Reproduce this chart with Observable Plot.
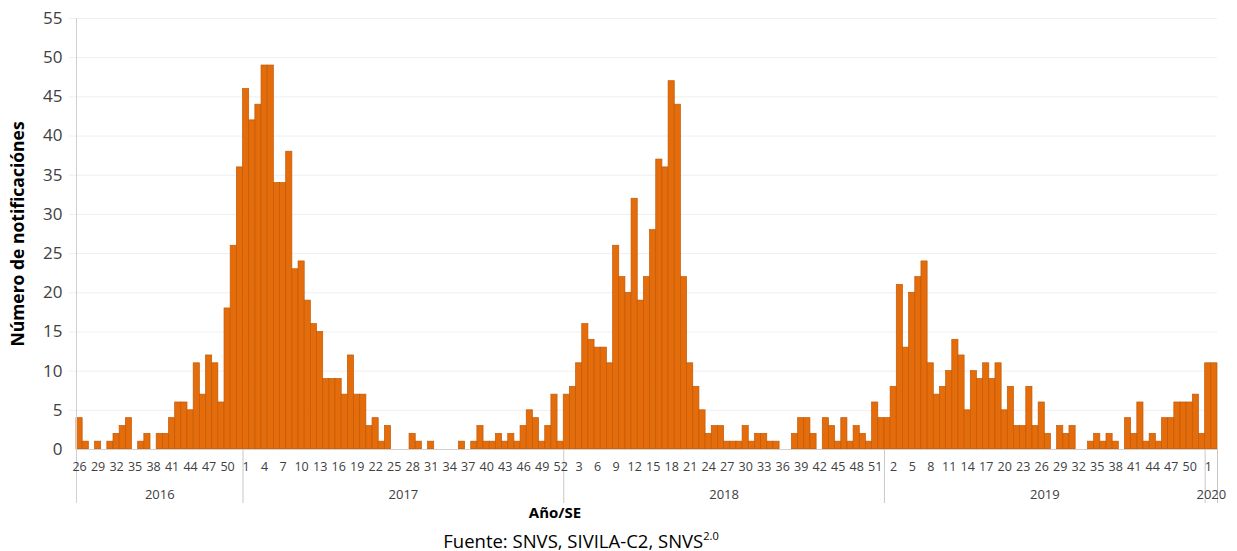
<!DOCTYPE html>
<html><head><meta charset="utf-8">
<script src="https://cdn.jsdelivr.net/npm/d3@7"></script>
<script src="https://cdn.jsdelivr.net/npm/@observablehq/plot@0.6"></script>
<style>
html,body{margin:0;background:#fff;font-family:"Open Sans",sans-serif;}
body{position:relative;width:1237px;height:551px;overflow:hidden;}
#caption{position:absolute;left:0;top:527px;width:1162px;height:28px;text-align:center;font-size:18.5px;color:#000;line-height:28px;font-family:"Open Sans",sans-serif;}
#caption sup{font-size:11px;vertical-align:top;position:relative;top:-5px;}
</style></head><body>
<div id="chart"></div>
<div id="caption">Fuente: SNVS, SIVILA-C2, SNVS<sup>2.0</sup></div>
<script>
// Epidemiological weeks (SE) per year and notification counts
const years = [2016, 2017, 2018, 2019, 2020];
const firstWeek = [26, 1, 1, 1, 1];
const cases2016 = [4,1,0,1,0,1,2,3,4,0,1,2,0,2,2,4,6,6,5,11,7,12,11,6,18,26,36];
const cases2017 = [46,42,44,49,49,34,34,38,23,24,19,16,15,9,9,9,7,12,7,7,3,4,1,3,0,0,0,2,1,0,1,0,0,0,0,1,0,1,3,1,1,2,1,2,1,3,5,4,1,3,7,1];
const cases2018 = [7,8,11,16,14,13,13,11,26,22,20,32,19,22,28,37,36,47,44,22,11,8,5,2,3,3,1,1,1,3,1,2,2,1,1,0,0,2,4,4,2,0,4,3,1,4,1,3,2,1,6,4];
const cases2019 = [4,8,21,13,20,22,24,11,7,8,10,14,12,5,10,9,11,9,11,5,8,3,3,8,3,6,2,0,3,2,3,0,0,1,2,1,2,1,0,4,2,6,1,2,1,4,4,6,6,6,7,2];
const cases2020 = [11,11];
const caseSeries = [cases2016, cases2017, cases2018, cases2019, cases2020];
const yTicks = [0,5,10,15,20,25,30,35,40,45,50,55];

const rows = [];
const yearSpans = [];
let idx = 0;
years.forEach((yr, k) => {
  const start = idx;
  caseSeries[k].forEach((v, j) => {
    rows.push({i: idx, year: yr, week: firstWeek[k] + j, value: v});
    idx++;
  });
  yearSpans.push({year: yr, start, end: idx});
});
const n = idx;
const weekTicks = rows.filter(d => d.i % 3 === 0);
const innerBounds = yearSpans.map(s => s.end);

const chart = Plot.plot({
  width: 1237,
  height: 527,
  marginLeft: 76,
  marginRight: 20,
  marginTop: 18,
  marginBottom: 78,
  style: {fontFamily: '"Open Sans", sans-serif', color: "#595959", background: "white", overflow: "visible"},
  x: {domain: [0, n], axis: null},
  y: {domain: [0, 55]},
  marks: [
    Plot.ruleY(yTicks.filter(t => t > 0), {stroke: "#efefef", insetLeft: -7}),
    Plot.axisY({ticks: yTicks, tickSize: 0, tickPadding: 14, fontSize: 17, label: null, fill: "#404040"}),
    Plot.rectY(rows.filter(d => d.value > 0), {
      x1: "i", x2: d => d.i + 1, y1: 0, y2: "value",
      fill: "#E46C0A", stroke: "#C05A08", strokeWidth: 0.7
    }),
    Plot.ruleY([0], {stroke: "#d0d0d0"}),
    Plot.ruleX([0], {y1: 55, y2: 0, insetBottom: -54, stroke: "#d0d0d0"}),
    Plot.ruleX(innerBounds, {y1: 0, y2: 0, insetBottom: -54, stroke: "#c8c8c8"}),
    Plot.text(weekTicks, {x: d => d.i + 0.5, y: 0, text: d => String(d.week), dy: 17, fontSize: 12.5, fill: "#404040"}),
    Plot.text(yearSpans, {x: d => (d.start + d.end) / 2, y: 0, text: d => String(d.year), dy: 45, fontSize: 13, fill: "#404040"}),
    Plot.text(["Año/SE"], {frameAnchor: "bottom", dy: 68, dx: -92, fontWeight: "bold", fontSize: 15, fill: "#000"}),
    Plot.text(["Número de notificaciónes"], {frameAnchor: "left", textAnchor: "middle", rotate: -90, dx: -58, fontWeight: "bold", fontSize: 17.5, fill: "#000"})
  ]
});
document.getElementById("chart").appendChild(chart);
</script>
</body></html>
